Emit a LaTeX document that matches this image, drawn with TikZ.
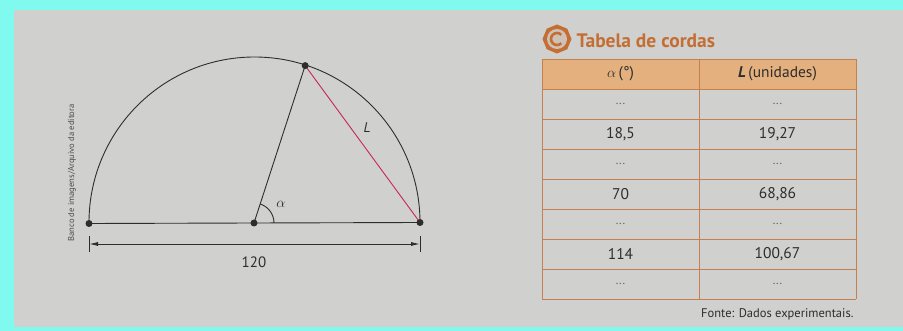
\documentclass[tikz,border=0pt]{standalone}
\usepackage{fontspec}
\setmainfont{PT Sans}
\usetikzlibrary{arrows.meta,shapes.geometric}
\definecolor{cyanband}{RGB}{128,250,238}
\definecolor{paper}{RGB}{208,208,206}
\definecolor{ink}{RGB}{45,45,45}
\definecolor{chord}{RGB}{200,40,80}
\definecolor{orng}{RGB}{196,110,52}
\definecolor{hdrfill}{RGB}{228,176,126}
\definecolor{gridc}{RGB}{198,128,80}
\tikzset{
  dot/.style={circle,fill=ink,inner sep=0pt,minimum size=7pt},
  geo/.style={draw=ink,line width=0.9pt},
  cell/.style={font=\fontsize{15.5}{17}\selectfont,text=ink,anchor=center},
  ell/.style={font=\fontsize{12}{12}\selectfont,text=ink!75,anchor=center},
  tick/.style={draw=ink,line width=0.9pt},
}
\begin{document}
\begin{tikzpicture}[x=1pt,y=-1pt]
\useasboundingbox (0,0) rectangle (903,331);
\fill[cyanband] (0,0) rectangle (903,331);
\fill[paper] (14,10) rectangle (903,327);
% geometry
\coordinate (C) at (254,223);
\coordinate (R) at (420,222.5);
\coordinate (Lp) at (89,223.5);
\path (C) ++(-72:165.5) coordinate (T);
\draw[geo] (R) arc[start angle=0,end angle=-180,radius=165.5];
\draw[geo] (Lp) -- (C) -- (R);
\draw[geo] (C) -- (T);
\draw[draw=chord,line width=0.9pt] (T) -- (R);
\draw[geo] (C) ++(20,0) arc[start angle=0,end angle=-72,radius=20];
\node[dot] (dL) at (Lp) {};
\node[dot] (dC) at (C) {};
\node[dot] (dR) at (R) {};
\node[dot] (dT) at (T) {};
\node[text=ink,font=\fontsize{15}{15}\selectfont] (alab) at (281,204) {$\alpha$};
\node[text=ink,font=\fontsize{14}{14}\selectfont\itshape] (llab) at (367,128) {L};
% dimension
\coordinate (dA) at (89,244);
\coordinate (dB) at (420,244);
\draw[tick] (89,236) -- (89,252);
\draw[tick] (420,236) -- (420,252);
\draw[draw=ink,line width=0.9pt,{Latex[length=9pt,width=4pt]}-{Latex[length=9pt,width=4pt]}] (dA) -- (dB);
\node[text=ink,font=\fontsize{15}{15}\selectfont] (dim) at (254,262) {120};
\node[rotate=90,text=ink!85,font=\fontsize{8.6}{8.6}\selectfont] (credit) at (72,173) {Banco de imagens/Arquivo da editora};
% title
\node[regular polygon,regular polygon sides=8,fill=orng,minimum size=29pt,inner sep=0pt,rotate=22.5] (icon) at (557,39) {};
\fill[paper!85!orng] (icon.center) circle (10);
\draw[orng,line width=2.6pt] (icon.center) ++(45:6) arc[start angle=45,end angle=315,radius=6];
\node[anchor=west,text=orng,font=\fontsize{19.5}{19.5}\selectfont\bfseries] (title) at (573,41) {Tabela de cordas};
% table
\fill[hdrfill] (542,59) rectangle (856,89);
\foreach \yy in {59,89,119,149,179,209,239,269,299} \draw[gridc,line width=0.9pt] (542,\yy) -- (856,\yy);
\draw[gridc,line width=0.9pt] (542,59) -- (542,299);
\draw[gridc,line width=0.9pt] (699,59) -- (699,299);
\draw[gridc,line width=0.9pt] (856,59) -- (856,299);
\node[cell] (h1) at (620.5,74) {$\alpha$\,(°)};
\node[cell] (h2) at (777.5,74) {\textbf{\textit{L}}\,(unidades)};
\node[ell] (a1) at (620.5,104) {...};
\node[ell] (b1) at (777.5,104) {...};
\node[cell] (a2) at (620.5,134) {18,5};
\node[cell] (b2) at (777.5,134) {19,27};
\node[ell] (a3) at (620.5,164) {...};
\node[ell] (b3) at (777.5,164) {...};
\node[cell] (a4) at (620.5,194) {70};
\node[cell] (b4) at (777.5,194) {68,86};
\node[ell] (a5) at (620.5,224) {...};
\node[ell] (b5) at (777.5,224) {...};
\node[cell] (a6) at (620.5,254) {114};
\node[cell] (b6) at (777.5,254) {100,67};
\node[ell] (a7) at (620.5,284) {...};
\node[ell] (b7) at (777.5,284) {...};
\node[anchor=east,text=ink,font=\fontsize{12.5}{12.5}\selectfont] (src) at (857,314) {Fonte: Dados experimentais.};
\end{tikzpicture}
\end{document}
